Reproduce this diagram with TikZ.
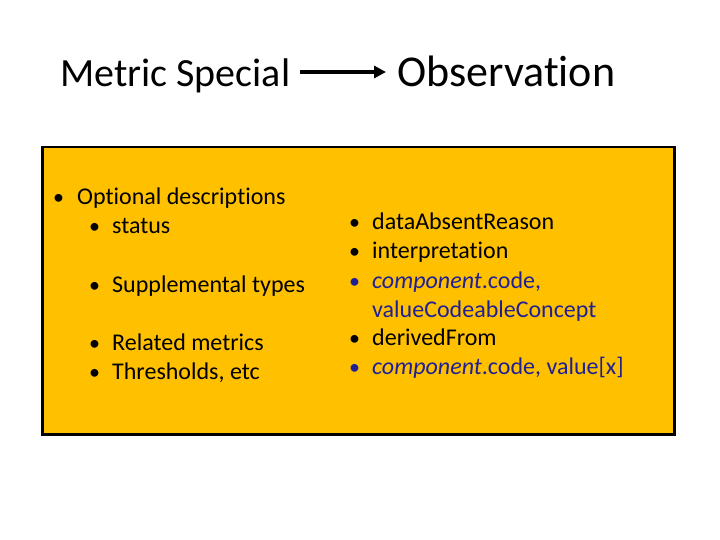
\documentclass[tikz,border=0pt]{standalone}
\usepackage{fontspec}
\setmainfont[Ligatures=NoCommon]{Carlito}
\usetikzlibrary{arrows.meta}
\definecolor{boxfill}{RGB}{255,192,0}
\definecolor{navy}{RGB}{32,32,150}
\tikzset{
  txt/.style={anchor=base west, inner sep=0pt, font=\fontsize{24bp}{28.8bp}\selectfont},
  bul/.style={anchor=base west, inner sep=0pt, font=\fontsize{22bp}{28.8bp}\selectfont},
  ttl/.style={anchor=base west, inner sep=0pt, font=\fontsize{40bp}{48bp}\selectfont},
  ttlb/.style={anchor=base west, inner sep=0pt, font=\fontsize{44bp}{52bp}\selectfont},
}
\begin{document}
\begin{tikzpicture}[x=1bp,y=-1bp]
\useasboundingbox (0,0) rectangle (720,540);
% titles
\node[ttl] (ms) at (60,87) {Metric Special};
\node[ttlb] (obs) at (397,87) {Observation};
\coordinate (a1) at (300,72);
\coordinate (a2) at (386,72);
\draw[line width=3.5bp,-{Triangle[length=12bp,width=12bp]}] (a1) -- (a2);
% box
\node[draw=black, line width=2.5bp, fill=boxfill, minimum width=632bp, minimum height=287bp, inner sep=0pt, anchor=north west] (box) at (41,146) {};
% left list
\node[bul] (lb1) at (53,205) {\textbullet};
\node[txt] (l1) at (77,205) {Optional descriptions};
\node[bul] (lb2) at (89,234) {\textbullet};
\node[txt] (l2) at (112,234) {status};
\node[bul] (lb3) at (89,292) {\textbullet};
\node[txt] (l3) at (112,292) {Supplemental types};
\node[bul] (lb4) at (89,350) {\textbullet};
\node[txt] (l4) at (112,350) {Related metrics};
\node[bul] (lb5) at (89,379) {\textbullet};
\node[txt] (l5) at (112,379) {Thresholds, etc};
% right list
\node[bul] (rb1) at (349,230) {\textbullet};
\node[txt] (r1) at (372,230) {dataAbsentReason};
\node[bul] (rb2) at (349,259) {\textbullet};
\node[txt] (r2) at (372,259) {interpretation};
\node[bul,text=navy] (rb3) at (349,288) {\textbullet};
\node[txt,text=navy] (r3) at (372,288) {\textit{component}.code,};
\node[txt,text=navy] (r3b) at (372,317) {valueCodeableConcept};
\node[bul] (rb4) at (349,345) {\textbullet};
\node[txt] (r4) at (372,345) {derivedFrom};
\node[bul,text=navy] (rb5) at (349,374) {\textbullet};
\node[txt,text=navy] (r5) at (372,374) {\textit{component}.code, value[x]};
\end{tikzpicture}
\end{document}
